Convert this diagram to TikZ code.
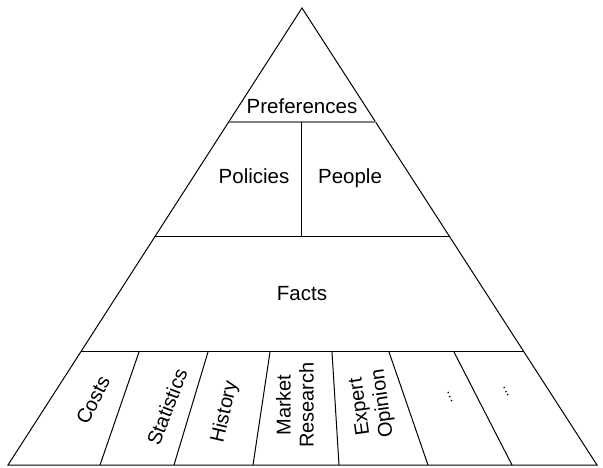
\documentclass[tikz,border=0pt]{standalone}
\usepackage{tikz}
\usepackage{xcolor}
\usepackage{fontspec}
\setmainfont{Liberation Sans}
\usetikzlibrary{calc}

\begin{document}
\begin{tikzpicture}[x=1pt,y=-1pt,line width=1pt,
  lvl/.style={font=\fontsize{20.5}{22}\selectfont,inner sep=0pt},
  src/.style={font=\fontsize{20}{23}\selectfont,inner sep=0pt,align=center},
  dots/.style={font=\fontsize{14}{14}\selectfont,inner sep=0pt}]
\useasboundingbox (0,0) rectangle (603,467);
\coordinate (apex) at (302,8);
\coordinate (bl) at (8,465);
\coordinate (br) at (597,465);
\draw (apex) -- (bl) -- (br) -- cycle;
\coordinate (prefL) at ($(apex)!0.2495!(bl)$);
\coordinate (prefR) at ($(apex)!0.2495!(br)$);
\coordinate (polL) at ($(apex)!0.501!(bl)$);
\coordinate (polR) at ($(apex)!0.501!(br)$);
\coordinate (factL) at ($(apex)!0.7527!(bl)$);
\coordinate (factR) at ($(apex)!0.7527!(br)$);
\draw[gray,line width=1.6pt] (prefL) -- (prefR);
\draw (polL) -- (polR);
\draw (factL) -- (factR);
\coordinate (midT) at (301,122);
\coordinate (midB) at (301,237);
\draw (midT) -- (midB);
\node[lvl,anchor=base] (pref) at (302,113) {Preferences};
\node[lvl,anchor=base] (poli) at (254,183) {Policies};
\node[lvl,anchor=base] (peop) at (350,183) {People};
\node[lvl,anchor=base] (fact) at (302,300) {Facts};
  \foreach \i/\a/\b in {1/139/100,2/208/174,3/270/253,4/332/339,5/389/428,6/454/512}
  {  \coordinate (t\i) at (\a,352); \coordinate (b\i) at (\b,465);
     \draw (t\i) -- (b\i);}
  \foreach \nm/\txt/\x/\y/\ang in {costs/Costs/93/400/63,stat/Statistics/167/407/69,
    hist/History/225/412/77,mkt/{Market\\Research}/295/405/90,exp/{Expert\\Opinion}/372/405/98}
  {  \node [src,rotate=\ang] (\nm) at (\x,\y) {\txt};}
\node[dots,rotate=114] (more1) at (450,397) {...};
\node[dots,rotate=117] (more2) at (506,392) {...};
\end{tikzpicture}
\end{document}
